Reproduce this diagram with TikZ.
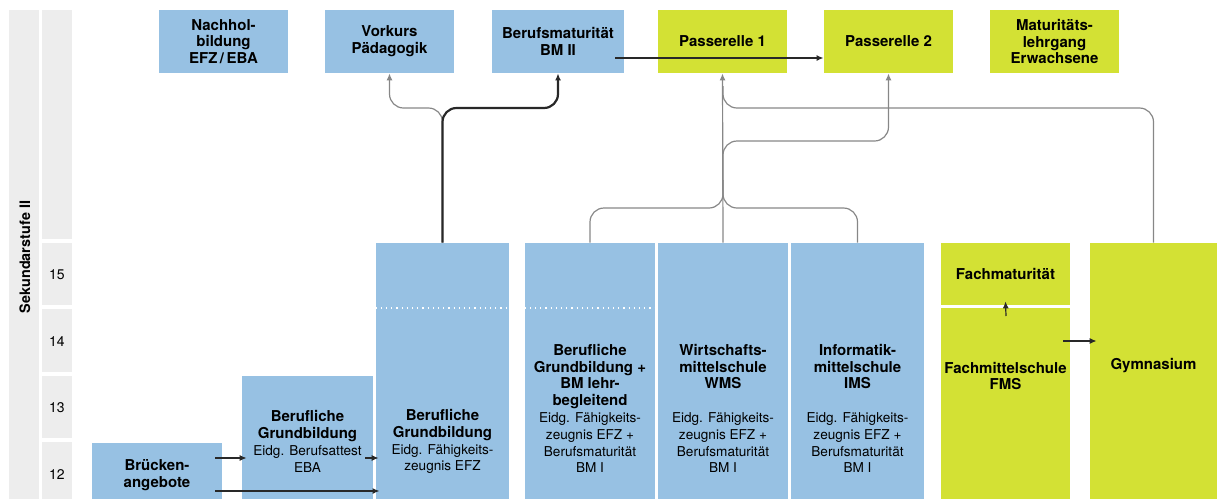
\documentclass[tikz,border=0pt]{standalone}
\usepackage{fontspec}
\setmainfont{TeX Gyre Heros}
\usepackage{tikz}
\usetikzlibrary{calc}
\usetikzlibrary{arrows.meta}
\definecolor{schoolblue}{RGB}{151,193,227}
\definecolor{schoolgreen}{RGB}{211,225,52}
\definecolor{yeargray}{RGB}{237,237,237}
\definecolor{linegray}{RGB}{135,135,135}
\definecolor{linedark}{RGB}{40,40,40}
% regular (not bold) line inside a box text
\newcommand{\reg}[1]{{\mdseries\fontsize{6.8}{8.4}\selectfont #1}}
\tikzset{
	% Box styles for the school types: blue and green
	blue box/.style={rectangle,fill=schoolblue,inner sep=0},
	green box/.style={rectangle,fill=schoolgreen,inner sep=0},
	year box/.style={rectangle,fill=yeargray,inner sep=0},
	box text/.style={align=center,inner sep=0,font=\bfseries\fontsize{7.5}{8.4}\selectfont},
	% Link styles: thin gray, thick dark, short dark
	thin link/.style={draw=linegray,line width=0.6pt,rounded corners=7pt},
	thick link/.style={draw=linedark,line width=1.1pt,rounded corners=7pt},
	short link/.style={draw=linedark,line width=0.6pt},
	with tip/.style={-{Latex[length=3.5pt,width=3pt]}},
	divider/.style={draw=white,line width=0.6pt,dotted}
}
\begin{document}
\begin{tikzpicture}[x=0.5pt,y=-0.5pt]
	% macros for boxes and their texts
	\newcommand{\schoolbox}[6][blue box]{\node[#1,box text,minimum width=#4pt,minimum height=#5pt](#2)at(#3){#6};}
	\newcommand{\boxtext}[3]{\node[box text](#1)at(#2){#3};}
	\newcommand{\yearbox}[3]{\node[year box,minimum width=15pt,minimum height=#3pt](#1)at(#2){};}
	\useasboundingbox (0,0) rectangle (1217,499);
	
	% year column
	\yearbox{stufe}{24,254.5}{244.5}
	\yearbox{y0}{57,124.5}{114.5}
	\yearbox{y15}{57,274}{31}
	\yearbox{y14}{57,340.5}{31.5}
	\yearbox{y13}{57,407}{31}
	\yearbox{y12}{57,470.5}{28.5}
	\node[rotate=90,inner sep=0,font=\bfseries\fontsize{7.2}{8}\selectfont](stufe-t)at(25,257){Sekundarstufe II};
	\node[font=\fontsize{7}{8}\selectfont](n15)at(57,275){15};
	\node[font=\fontsize{7}{8}\selectfont](n14)at(57,342){14};
	\node[font=\fontsize{7}{8}\selectfont](n13)at(57,408){13};
	\node[font=\fontsize{7}{8}\selectfont](n12)at(57,475){12};
	
	% top row
	\schoolbox{nach}{223.5,41.5}{64.5}{31.5}{Nachhol-\\bildung\\EFZ\,/\,EBA}
	\schoolbox{vork}{389.5,41.5}{64.5}{31.5}{Vorkurs\\Pädagogik}
	\schoolbox{bm2}{558,41.5}{66}{31.5}{Berufsmaturität\\BM II}
	\schoolbox[green box]{pas1}{722.5,41.5}{64.5}{31.5}{Passerelle 1}
	\schoolbox[green box]{pas2}{888.5,41.5}{64.5}{31.5}{Passerelle 2}
	\schoolbox[green box]{matl}{1054.5,41.5}{64.5}{31.5}{Maturitäts-\\lehrgang\\Erwachsene}
	
	% bottom row
	\schoolbox{bru}{157,471}{65}{28}{}
	\schoolbox{eba}{307.5,437.5}{65.5}{61.5}{}
	\schoolbox{efz}{442.5,371}{66.5}{128}{}
	\schoolbox{bgbm}{590,371}{65}{128}{}
	\schoolbox{wms}{723,371}{65}{128}{}
	\schoolbox{ims}{857.5,371}{66.5}{128}{}
	\schoolbox[green box]{fmat}{1005.5,274}{64.5}{31}{Fachmaturität}
	\schoolbox[green box]{fms}{1005.5,403.5}{64.5}{95.5}{}
	\schoolbox[green box]{gym}{1153.5,371}{63.5}{128}{}
	
	\coordinate (div) at (0,308);
	\draw[divider] (efz.west |- div) -- (efz.east |- div);
	\draw[divider] (bgbm.west |- div) -- (bgbm.east |- div);
	
	\boxtext{bru-t}{157,475}{Brücken-\\angebote}
	\boxtext{eba-t}{307.5,441.5}{Berufliche\\Grundbildung\\\reg{Eidg. Berufsattest}\\\reg{EBA}}
	\boxtext{efz-t}{442.5,441.5}{Berufliche\\Grundbildung\\\reg{Eidg. Fähigkeits-}\\\reg{zeugnis EFZ}}
	\boxtext{bgbm-t}{590,408.5}{Berufliche\\Grundbildung +\\BM lehr-\\begleitend\\\reg{Eidg. Fähigkeits-}\\\reg{zeugnis EFZ +}\\\reg{Berufsmaturität}\\\reg{BM I}}
	\boxtext{wms-t}{723,408.5}{Wirtschafts-\\mittelschule\\WMS\\[8.4pt]\reg{Eidg. Fähigkeits-}\\\reg{zeugnis EFZ +}\\\reg{Berufsmaturität}\\\reg{BM I}}
	\boxtext{ims-t}{857.5,408.5}{Informatik-\\mittelschule\\IMS\\[8.4pt]\reg{Eidg. Fähigkeits-}\\\reg{zeugnis EFZ +}\\\reg{Berufsmaturität}\\\reg{BM I}}
	\boxtext{fms-t}{1005.5,376}{Fachmittelschule\\FMS}
	\boxtext{gym-t}{1153.5,366}{Gymnasium}
	
	% links from EFZ up to Vorkurs and BM II
	\coordinate (fork1) at (0,108);
	\draw[thin link,with tip] (efz.north) |- (vork.south |- fork1) -- (vork.south);
	\draw[thick link,with tip] (efz.north) |- (bm2.south |- fork1) -- (bm2.south);
	
	% links up to Passerelle 1 and 2
	\coordinate (fork2) at (0,208);
	\coordinate (fork3) at (0,180);
	\coordinate (fork4) at (0,141);
	\draw[thin link] (bgbm.north) |- (wms.north |- fork2) -- (wms.north |- fork3);
	\draw[thin link] (ims.north) |- (wms.north |- fork2) -- (wms.north |- fork3);
	\draw[thin link,with tip] (wms.north) -- (pas1.south);
	\draw[thin link,with tip] (wms.north |- fork3) |- (pas2.south |- fork4) -- (pas2.south);
	\coordinate (fork5) at (0,86);
	\draw[thin link] (gym.north) |- (wms.north |- fork1) -- (wms.north |- fork5);
	
	% BM II to Passerelle 2
	\coordinate (bmout) at (615,58);
	\draw[thick link,with tip] (bmout) -- (bmout -| pas2.west);
	
	% short arrows at the bottom
	\coordinate (bru1) at (215,458);
	\coordinate (bru2) at (215,491);
	\coordinate (eba1) at (365,458);
	\draw[short link,with tip] (bru1) -- ($(bru1 -| eba.west)+(5,0)$);
	\draw[thick link,with tip] (bru2) -- ($(bru2 -| efz.west)+(4,0)$);
	\draw[short link,with tip] (eba1) -- ($(eba1 -| efz.west)+(3,0)$);
	\coordinate (fms1) at (1006,316);
	\draw[short link,with tip] (fms1) -- ($(fmat.south)+(0,-4)$);
	\coordinate (fms2) at (1063,341);
	\draw[short link,with tip] (fms2) -- ($(fms2 -| gym.west)+(7,0)$);
\end{tikzpicture}
\end{document}
